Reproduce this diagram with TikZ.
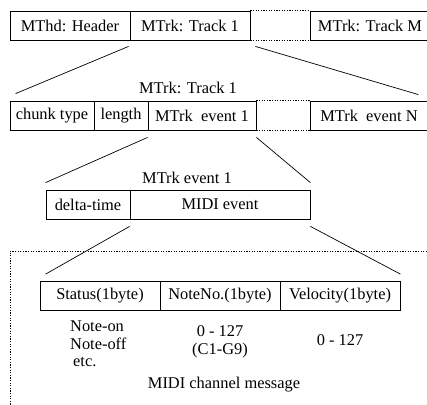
\documentclass[tikz,border=0pt]{standalone}
\usepackage{fontspec}
\setmainfont{Liberation Serif}
\usepackage{tikz}
\usepackage{xcolor}

\tikzset{
  cell/.style={draw, line width=0.8pt, minimum height=29pt, inner sep=2pt,
    font=\fontsize{16.4}{17.5}\selectfont},
  txt/.style={inner sep=0pt, font=\fontsize{16.4}{17.5}\selectfont},
  gapline/.style={line width=0.8pt, dash pattern=on 1.2pt off 1.4pt},
  zoomline/.style={line width=0.7pt}
}

\begin{document}
\begin{tikzpicture}[x=1pt,y=-1pt]
\useasboundingbox (0,0) rectangle (427,404);
\clip (0,0) rectangle (427,404);

% File: header and tracks
\node[cell, minimum width=120pt] (hdr)  at (70,25.5)  {MThd: Header};
\node[cell, minimum width=120pt] (trk1) at (190,25.5) {MTrk: Track 1};
\node[cell, minimum width=120pt] (trkM) at (370,25.5) {MTrk: Track M};
\draw[gapline] (trk1.north east) -- (trkM.north west)
               (trk1.south east) -- (trkM.south west);

% Track 1
\node[txt] (trklbl) at (188,88) {MTrk: Track 1};
\node[cell, minimum width=84pt]  (ctype) at (52,115.5)  {chunk type};
\node[cell, minimum width=54pt]  (len)   at (121,115.5) {length};
\node[cell, minimum width=108pt] (ev1)   at (202,115.5) {MTrk\ \ event 1};
\node[cell, minimum width=118pt] (evN)   at (369,115.5) {MTrk\ \ event N};
\draw[gapline] (ev1.north east) -- (evN.north west)
               (ev1.south east) -- (evN.south west);

% MTrk event 1
\node[txt] (evlbl) at (187,178) {MTrk event 1};
\node[cell, minimum width=84pt]  (dt)   at (88,204.5)  {delta-time};
\node[cell, minimum width=180pt] (midi) at (220,204.5) {MIDI event};

% MIDI channel message
\draw[gapline] (440,251) -- (10,251) -- (10,410);
\node[cell, minimum width=120pt] (stat) at (100,296) {Status(1byte)};
\node[cell, minimum width=120pt] (note) at (220,296) {NoteNo.(1byte)};
\node[cell, minimum width=120pt] (vel)  at (340,296) {Velocity(1byte)};
\node[txt, align=left, anchor=north west] (statv) at (70,321) {Note-on\\Note-off\\\hspace{3pt}etc.};
\node[txt, align=center] (notev) at (220,342) {0 - 127\\(C1-G9)};
\node[txt] (velv) at (340,340) {0 - 127};
\node[txt] (msglbl) at (224,385) {MIDI channel message};

% Zoom lines
\draw[zoomline] ([shift={(-1,6)}]trk1.south west) -- ([shift={(6,-7)}]ctype.north west);
\draw[zoomline] ([shift={(5,6)}]trk1.south east) -- ([shift={(-10,-6)}]evN.north east);
\draw[zoomline] ([shift={(0,7)}]ev1.south west) -- ([shift={(0,-7)}]dt.north west);
\draw[zoomline] ([shift={(0,7)}]ev1.south east) -- ([shift={(0,-7)}]midi.north east);
\draw[zoomline] ([shift={(0,7)}]midi.south west) -- ([shift={(6,-7)}]stat.north west);
\draw[zoomline] ([shift={(0,7)}]midi.south east) -- ([shift={(0,-7)}]vel.north east);
\end{tikzpicture}
\end{document}
